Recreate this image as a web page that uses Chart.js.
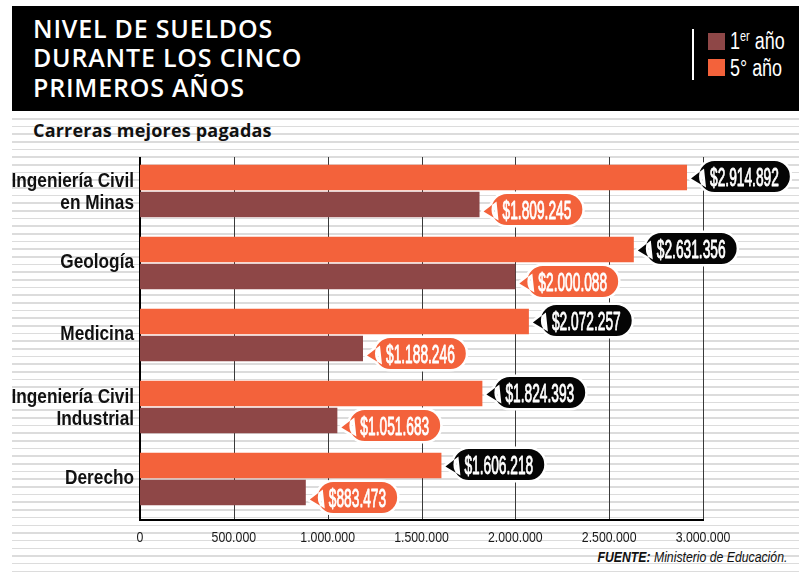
<!DOCTYPE html>
<html>
  <head>
    <meta charset="utf-8">
    <script src="https://cdn.jsdelivr.net/npm/chart.js"></script>
    <style>
      body { margin: 0; width: 799px; height: 573px; overflow: hidden; background: #fff; position: relative; }
      .rayas { position: absolute; left: 12px; top: 117.8px; right: 0; bottom: 0;
               background: repeating-linear-gradient(to bottom, #dcdcdc 0, #dcdcdc 1.6px, transparent 1.6px, transparent 7.67px); }
      .cabeza { position: absolute; left: 12px; top: 6px; width: 787px; height: 105px; background: #000; }
      .titulo { position: absolute; left: 33px; top: 13.5px; color: #fff; font-family: "Open Sans", sans-serif;
                font-weight: 600; font-size: 25px; line-height: 29.5px; letter-spacing: 0.8px; margin: 0; }
      .raya-ley { position: absolute; left: 692px; top: 29px; width: 2px; height: 51px; background: #fff; }
      .cuadro { position: absolute; left: 708px; width: 17px; height: 17px; }
      .ley { position: absolute; left: 730px; color: #fff; font-family: "Liberation Sans", sans-serif;
             font-size: 23px; line-height: 22px; white-space: nowrap; transform: scaleX(0.78); transform-origin: left center; }
      .ley sup { font-size: 14px; vertical-align: 8px; line-height: 0; }
      .sub { position: absolute; left: 33px; top: 118px; font-family: "Open Sans", sans-serif; font-weight: 700;
             font-size: 18px; line-height: 24px; letter-spacing: 0.2px; color: #111; margin: 0; }
      .fuente { position: absolute; right: 12px; top: 549px; font-family: "Liberation Sans", sans-serif; line-height: 15px;
                font-style: italic; font-size: 15.5px; color: #111; white-space: nowrap;
                transform: scaleX(0.79); transform-origin: right center; }
      canvas { position: absolute; left: 0; top: 0; }
    </style>
  </head>
  <body>
    <div class="rayas"></div>
    <div class="cabeza"></div>
    <h1 class="titulo">NIVEL DE SUELDOS<br>DURANTE LOS CINCO<br>PRIMEROS AÑOS</h1>
    <div class="raya-ley"></div>
    <div class="cuadro" style="top:33px;background:#8E4747"></div>
    <div class="cuadro" style="top:59px;background:#F3623B"></div>
    <div class="ley" style="top:30px">1<sup>er</sup> año</div>
    <div class="ley" style="top:56.5px">5° año</div>
    <p class="sub">Carreras mejores pagadas</p>
    <div class="fuente"><b>FUENTE:</b> Ministerio de Educación.</div>
    <canvas id="grafico" width="799" height="573"></canvas>

    <script>
      // datos
      const carreras = [
        ['Ingeniería Civil', 'en Minas'],
        'Geología',
        'Medicina',
        ['Ingeniería Civil', 'Industrial'],
        'Derecho'
      ];
      const quintoAnio = [2914892, 2631356, 2072257, 1824393, 1606218];
      const primerAnio = [1809245, 2000088, 1188246, 1051683, 883473];
      const marcasX = [0, 500000, 1000000, 1500000, 2000000, 2500000, 3000000];

      const naranja = '#F3623B';
      const cafe = '#8E4747';
      const letra = '"Liberation Sans", Arial, sans-serif';

      function puntos(n) {
        return String(n).replace(/\B(?=(\d{3})+(?!\d))/g, '.');
      }

      // texto angosto: la fuente original es condensada
      function angosto(ctx, txt, x, y, alinear, esc, grosor) {
        ctx.save();
        ctx.translate(x, y);
        ctx.scale(esc, 1);
        ctx.textAlign = alinear;
        ctx.fillText(txt, 0, 0);
        if (grosor) {
          ctx.lineWidth = grosor;
          ctx.strokeStyle = ctx.fillStyle;
          ctx.strokeText(txt, 0, 0);
        }
        ctx.restore();
      }

      // ejes, lineas verticales y rotulos
      const ejes = {
        id: 'ejes',
        beforeDatasetsDraw(chart) {
          const ctx = chart.ctx;
          const sx = chart.scales.x, sy = chart.scales.y;
          const area = chart.chartArea;
          const arriba = area.top + 2, abajo = area.bottom + 5;
          ctx.save();
          ctx.strokeStyle = '#3a3a3a';
          ctx.lineWidth = 1;
          marcasX.slice(1).forEach(v => {
            const x = Math.round(sx.getPixelForValue(v)) + 0.5;
            ctx.beginPath(); ctx.moveTo(x, arriba); ctx.lineTo(x, abajo); ctx.stroke();
          });
          ctx.strokeStyle = '#000';
          ctx.lineWidth = 2;
          const x0 = sx.getPixelForValue(0);
          ctx.beginPath(); ctx.moveTo(x0, arriba); ctx.lineTo(x0, abajo + 1); ctx.stroke();
          ctx.beginPath(); ctx.moveTo(x0 - 1, abajo); ctx.lineTo(sx.getPixelForValue(3000000) + 1, abajo); ctx.stroke();

          // rotulos del eje x
          ctx.fillStyle = '#1a1a1a';
          ctx.font = '15px ' + letra;
          ctx.textBaseline = 'alphabetic';
          marcasX.forEach(v => angosto(ctx, puntos(v), sx.getPixelForValue(v), abajo + 22, 'center', 0.82));

          // rotulos de carreras
          ctx.fillStyle = '#111';
          ctx.font = 'bold 21px ' + letra;
          carreras.forEach((c, i) => {
            const lineas = Array.isArray(c) ? c : [c];
            const yc = sy.getPixelForValue(i);
            lineas.forEach((l, k) => {
              angosto(ctx, l, area.left - 6, yc + 4.5 - 9 * (lineas.length - 1) + 22 * k, 'right', 0.82);
            });
          });
          ctx.restore();
        }
      };

      // globos con los montos
      const globos = {
        id: 'globos',
        afterDatasetsDraw(chart) {
          const ctx = chart.ctx;
          const esc = 0.55;
          chart.data.datasets.forEach((ds, di) => {
            const meta = chart.getDatasetMeta(di);
            meta.data.forEach((bar, i) => {
              const txt = '$' + puntos(ds.data[i]);
              const cy = bar.y + (di === 1 ? 5 : -1);
              ctx.save();
              ctx.font = '25px ' + letra;
              const tw = ctx.measureText(txt).width * esc;
              const izq = bar.x + 12, w = tw + 22, h = 31, top = cy - h / 2;
              const forma = () => {
                ctx.beginPath();
                ctx.roundRect(izq, top, w, h, h / 2);
                ctx.moveTo(izq + 5, cy - 8);
                ctx.lineTo(izq - 8, cy + 2);
                ctx.lineTo(izq + 7, cy + 11);
                ctx.closePath();
              };
              forma();
              ctx.strokeStyle = '#fff';
              ctx.lineWidth = 5;
              ctx.lineJoin = 'round';
              ctx.stroke();
              forma();
              ctx.fillStyle = di === 0 ? '#050505' : naranja;
              ctx.fill();
              ctx.fillStyle = '#fff';
              ctx.textBaseline = 'alphabetic';
              angosto(ctx, txt, izq + w / 2, cy + 9.5, 'center', esc, 0.9);
              ctx.restore();
            });
          });
        }
      };

      new Chart(document.getElementById('grafico'), {
        type: 'bar',
        data: {
          labels: carreras,
          datasets: [
            { label: '5° año', data: quintoAnio, backgroundColor: naranja, categoryPercentage: 0.75, barPercentage: 0.944 },
            { label: '1er año', data: primerAnio, backgroundColor: cafe, categoryPercentage: 0.75, barPercentage: 0.944 }
          ]
        },
        options: {
          indexAxis: 'y',
          responsive: false,
          animation: false,
          devicePixelRatio: 1,
          layout: { padding: { top: 155, right: 96, bottom: 0, left: 0 } },
          plugins: { legend: { display: false }, tooltip: { enabled: false } },
          scales: {
            x: {
              min: 0, max: 3000000,
              afterFit: s => { s.height = 58; },
              grid: { display: false, drawTicks: false },
              border: { display: false },
              ticks: { display: false }
            },
            y: {
              afterFit: s => { s.width = 140; },
              grid: { display: false, drawTicks: false },
              border: { display: false },
              ticks: { display: false }
            }
          }
        },
        plugins: [ejes, globos]
      });
    </script>
  </body>
</html>
